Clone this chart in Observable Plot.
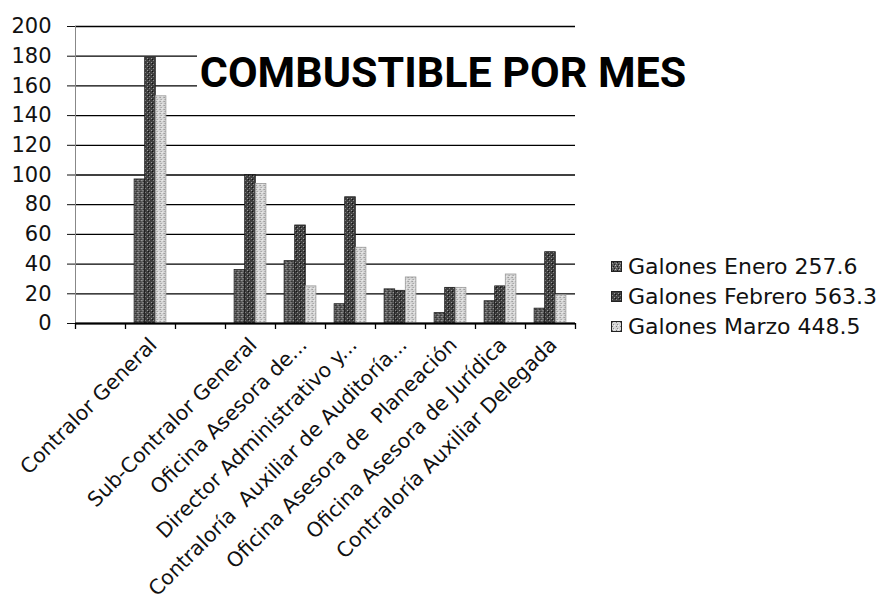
<!DOCTYPE html>
<html>
<head>
<meta charset="utf-8">
<script src="https://cdn.jsdelivr.net/npm/d3@7"></script>
<script src="https://cdn.jsdelivr.net/npm/@observablehq/plot@0.6"></script>
<style>
  html, body { margin: 0; padding: 0; background: #fff; }
  #wrap { position: relative; width: 886px; height: 605px; overflow: hidden; }
  #title { position: absolute; left: 0; width: 886px; top: 51px; text-align: center;
    font-family: "Roboto", sans-serif; font-weight: 700; font-size: 43px; line-height: 42px; color: #000; }
  #title span { background: #fff; padding: 0 3px; }
  #legend { position: absolute; left: 611px; top: 251px; font-family: "DejaVu Sans", sans-serif; font-size: 22px; color: #111; }
  .row { display: flex; align-items: center; height: 30px; }
  .row svg { margin-right: 6px; }
</style>
</head>
<body>
<svg width="0" height="0" style="position:absolute">
  <defs>
    <pattern id="p0" width="4" height="4" patternUnits="userSpaceOnUse">
      <rect width="4" height="4" fill="#5c5c5c"/>
      <rect x="0" y="0" width="1" height="1" fill="#bdbdbd"/>
      <rect x="2" y="1" width="1" height="1" fill="#1a1a1a"/>
      <rect x="1" y="2" width="1" height="1" fill="#9a9a9a"/>
      <rect x="3" y="3" width="1" height="1" fill="#222"/>
    </pattern>
    <pattern id="p1" width="4" height="4" patternUnits="userSpaceOnUse">
      <rect width="4" height="4" fill="#404040"/>
      <rect x="1" y="0" width="1" height="1" fill="#8a8a8a"/>
      <rect x="3" y="2" width="1" height="1" fill="#9a9a9a"/>
      <rect x="0" y="3" width="1" height="1" fill="#111"/>
    </pattern>
    <pattern id="p2" width="4" height="4" patternUnits="userSpaceOnUse">
      <rect width="4" height="4" fill="#d6d6d6"/>
      <rect x="1" y="1" width="1" height="1" fill="#7a7a7a"/>
      <rect x="3" y="0" width="1" height="1" fill="#f4f4f4"/>
      <rect x="2" y="3" width="1" height="1" fill="#8c8c8c"/>
    </pattern>
  </defs>
</svg>
<div id="wrap">
  <div id="chart"></div>
  <div id="title"><span>COMBUSTIBLE POR MES</span></div>
  <div id="legend"></div>
</div>
<script>
// Categories (two empty slots as in the original chart)
const categories = ["", "Contralor General", " ", "Sub-Contralor General", "Oficina Asesora de...",
  "Director Administrativo y...", "Contraloría  Auxiliar de Auditoría...", "Oficina Asesora de  Planeación",
  "Oficina Asesora de Jurídica", "Contraloría Auxiliar Delegada"];
const seriesNames = ["Galones Enero 257.6", "Galones Febrero 563.3", "Galones Marzo 448.5"];
const enero   = [null, 97, null, 36, 42, 13, 23, 7, 15, 10];
const febrero = [null, 179, null, 100, 66, 85, 22, 24, 25, 48];
const marzo   = [null, 153, null, 94, 25, 51, 31, 24, 33, 19];
const yTicks = [0, 20, 40, 60, 80, 100, 120, 140, 160, 180, 200];
const fills = ["url(#p0)", "url(#p1)", "url(#p2)"];
const strokes = ["#222", "#1a1a1a", "#9a9a9a"];

const seriesValues = [enero, febrero, marzo];
const rows = (vals) => categories.map((c, i) => ({cat: c, v: vals[i]})).filter(d => d.v != null);

const barW = 10.6;
const bandPx = 50;
const inset = (bandPx - barW) / 2;

const marks = [
  Plot.gridY(yTicks, {stroke: "#000", strokeOpacity: 1, strokeWidth: 1.3}),
  Plot.axisY(yTicks, {tickSize: 8, tickPadding: 16, fontSize: 21, tickFormat: d => d, label: null}),
  Plot.frame({anchor: "left", stroke: "#888", strokeWidth: 1}),
];
seriesValues.forEach((vals, k) => {
  marks.push(Plot.barY(rows(vals), {
    x: "cat", y: "v", fill: fills[k], stroke: strokes[k], strokeWidth: 0.8,
    insetLeft: inset, insetRight: inset, dx: (k - 1) * barW
  }));
});
marks.push(
  Plot.ruleY([0], {stroke: "#000", strokeWidth: 2}),
  Plot.ruleX(categories, {x: d => d, y1: 0, y2: 0, insetBottom: -6, dx: -bandPx / 2, stroke: "#000", strokeWidth: 1.3}),
  Plot.ruleX(categories.slice(-1), {x: d => d, y1: 0, y2: 0, insetBottom: -6, dx: bandPx / 2, stroke: "#000", strokeWidth: 1.3}),
  Plot.axisX({tickSize: 0, tickPadding: 18, tickRotate: -45, fontSize: 20.5, dx: 3, label: null})
);

const chart = Plot.plot({
  width: 886,
  height: 605,
  marginTop: 26,
  marginBottom: 282,
  marginLeft: 75,
  marginRight: 311,
  style: {fontFamily: "DejaVu Sans", fontSize: "20px", color: "#111", background: "transparent"},
  x: {domain: categories, padding: 0, paddingOuter: 0, align: 0.5},
  y: {domain: [0, 200]},
  marks
});
document.getElementById("chart").appendChild(chart);

const legend = document.getElementById("legend");
const ns = "http://www.w3.org/2000/svg";
seriesNames.forEach((name, k) => {
  const row = document.createElement("div");
  row.className = "row";
  const sw = document.createElementNS(ns, "svg");
  sw.setAttribute("width", "11");
  sw.setAttribute("height", "11");
  const r = document.createElementNS(ns, "rect");
  r.setAttribute("x", "0.5"); r.setAttribute("y", "0.5");
  r.setAttribute("width", "10"); r.setAttribute("height", "10");
  r.setAttribute("fill", fills[k]); r.setAttribute("stroke", "#222");
  sw.appendChild(r);
  const t = document.createElement("span");
  t.textContent = name;
  row.appendChild(sw);
  row.appendChild(t);
  legend.appendChild(row);
});
</script>
</body>
</html>
